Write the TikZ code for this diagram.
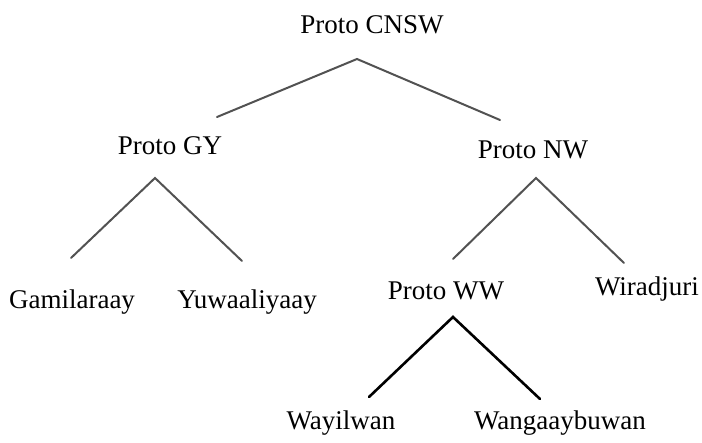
\documentclass[tikz,border=0pt]{standalone}
\usepackage{fontspec}
\setmainfont{Liberation Serif}
\begin{document}
\begin{tikzpicture}[x=1pt,y=-1pt,
  lbl/.style={anchor=base,inner sep=0pt,font=\fontsize{27}{30}\selectfont},
  branch/.style={draw=black!68,line width=2pt,line cap=round,line join=miter},
  branchdark/.style={draw=black,line width=2.6pt,line cap=round,line join=miter}]
  \useasboundingbox (0,0) rectangle (702,443);
  % labels
  \node[lbl] (cnsw) at (372,34) {Proto CNSW};
  \node[lbl] (gy)   at (170,155) {Proto GY};
  \node[lbl] (nw)   at (533,159) {Proto NW};
  \node[lbl] (gam)  at (72,309) {Gamilaraay};
  \node[lbl] (yuw)  at (247,309) {Yuwaaliyaay};
  \node[lbl] (ww)   at (446,300) {Proto WW};
  \node[lbl] (wir)  at (647,296) {Wiradjuri};
  \node[lbl] (way)  at (341,430) {Wayilwan};
  \node[lbl] (wang) at (560,430) {Wangaaybuwan};
  % branch points
  \coordinate (cnswApex) at (357,59);
  \coordinate (gyEnd) at (217,117);
  \coordinate (nwEnd) at (500,120);
  \coordinate (gyApex) at (155,178);
  \coordinate (gamEnd) at (71,258);
  \coordinate (yuwEnd) at (242,261);
  \coordinate (nwApex) at (536,178);
  \coordinate (wwEnd) at (453,259);
  \coordinate (wirEnd) at (624,263);
  \coordinate (wwApex) at (453,317);
  \coordinate (wayEnd) at (369,397);
  \coordinate (wangEnd) at (540,399);
  % branches
  \draw[branch] (gyEnd) -- (cnswApex) -- (nwEnd);
  \draw[branch] (gamEnd) -- (gyApex) -- (yuwEnd);
  \draw[branch] (wwEnd) -- (nwApex) -- (wirEnd);
  \draw[branchdark] (wayEnd) -- (wwApex) -- (wangEnd);
\end{tikzpicture}
\end{document}
